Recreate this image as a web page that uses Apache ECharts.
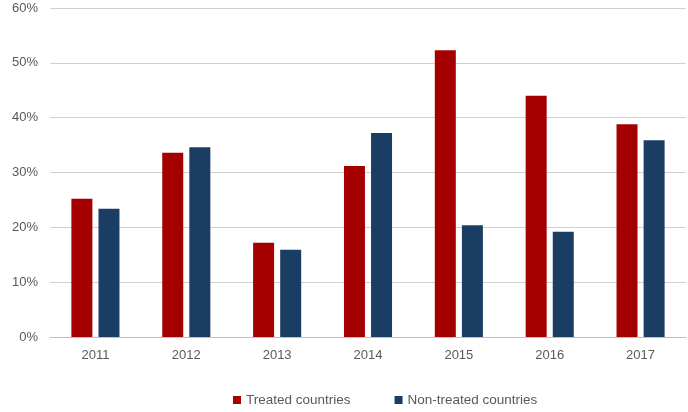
<!DOCTYPE html>
<html><head><meta charset="utf-8">
<script src="https://cdn.jsdelivr.net/npm/echarts@6/dist/echarts.min.js"></script>
<style>html,body{margin:0;padding:0;background:#fff}#c{width:688px;height:412px}</style>
</head><body><div id="c"></div>
<script>
const categories = ['2011','2012','2013','2014','2015','2016','2017'];
const treated = [25.2, 33.6, 17.2, 31.2, 52.3, 44.0, 38.8];
const nonTreated = [23.4, 34.6, 15.9, 37.2, 20.4, 19.2, 35.9];
const seriesNames = ['Treated countries', 'Non-treated countries'];

const chart = echarts.init(document.getElementById('c'));
const font = '"Liberation Sans", Arial, sans-serif';
chart.setOption({
  animation: false,
  textStyle: {fontFamily: font},
  grid: {left: 50, right: 2, top: 8, bottom: 75},
  legend: {
    bottom: 0, left: 228, itemWidth: 8, itemHeight: 8, itemGap: 44,
    icon: 'rect',
    textStyle: {fontSize: 13.5, color: '#595959', fontFamily: font},
    data: seriesNames
  },
  xAxis: {
    type: 'category', data: categories,
    axisLine: {lineStyle: {color: '#bfbfbf', width: 1}},
    axisTick: {show: false},
    axisLabel: {fontSize: 13, color: '#595959', margin: 12}
  },
  yAxis: {
    type: 'value', min: 0, max: 60, interval: 10,
    axisLabel: {formatter: '{value}%', fontSize: 13, color: '#595959', margin: 12},
    splitLine: {lineStyle: {color: '#d0d0d0', width: 1}},
    axisLine: {show: false}, axisTick: {show: false}
  },
  series: [
    {name: seriesNames[0], type: 'bar', data: treated, barWidth: 21, barGap: '29%',
     itemStyle: {color: '#A50000'}},
    {name: seriesNames[1], type: 'bar', data: nonTreated, barWidth: 21,
     itemStyle: {color: '#1A3D63'}}
  ]
});
</script></body></html>
